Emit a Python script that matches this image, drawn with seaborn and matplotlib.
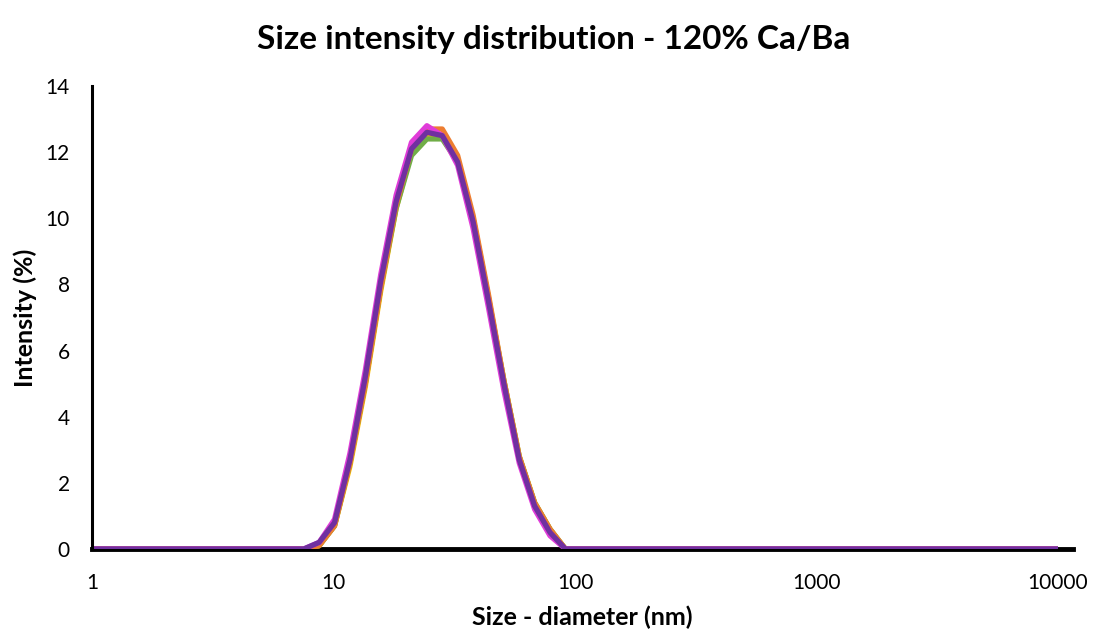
import matplotlib
matplotlib.use('Agg')
import matplotlib.pyplot as plt
import seaborn as sns
import pandas as pd
from matplotlib.ticker import FixedLocator, FixedFormatter, NullLocator

# size bins (nm), Zetasizer-style log spacing
size_nm = [0.9649, 1.117, 1.294, 1.499, 1.736, 2.010, 2.328, 2.696, 3.122, 3.615,
           4.187, 4.849, 5.615, 6.503, 7.531, 8.721, 10.10, 11.70, 13.54, 15.69,
           18.17, 21.04, 24.36, 28.21, 32.67, 37.84, 43.82, 50.75, 58.77, 68.06,
           78.82, 91.28, 105.7, 122.4, 141.8, 164.2, 190.1, 220.2, 255.0, 295.3,
           342.0, 396.1, 458.7, 531.2, 615.1, 712.4, 825.0, 955.4, 1106, 1281,
           1484, 1718, 1990, 2305, 2669, 3091, 3580, 4145, 4801, 5560,
           6439, 7456, 8635, 10000]

# intensity (%) per run, one value per bin
run_gold = [0, 0, 0, 0, 0, 0, 0, 0, 0, 0, 0, 0, 0, 0, 0,
            0.1, 0.7, 2.5, 4.9, 7.8, 10.3, 12.0, 12.5, 12.5, 11.8, 10.0, 7.6, 5.1, 2.8, 1.4, 0.6,
            0, 0, 0, 0, 0, 0, 0, 0, 0, 0, 0, 0, 0, 0, 0, 0, 0,
            0, 0, 0, 0, 0, 0, 0, 0, 0, 0, 0, 0, 0, 0, 0, 0]
run_green = [0, 0, 0, 0, 0, 0, 0, 0, 0, 0, 0, 0, 0, 0, 0,
             0.1, 0.7, 2.6, 5.0, 7.9, 10.3, 11.9, 12.4, 12.4, 11.7, 10.0, 7.6, 5.1, 2.8, 1.4, 0.6,
             0, 0, 0, 0, 0, 0, 0, 0, 0, 0, 0, 0, 0, 0, 0, 0, 0,
             0, 0, 0, 0, 0, 0, 0, 0, 0, 0, 0, 0, 0, 0, 0, 0]
run_orange = [0, 0, 0, 0, 0, 0, 0, 0, 0, 0, 0, 0, 0, 0, 0,
              0.1, 0.7, 2.6, 5.0, 7.9, 10.4, 12.1, 12.7, 12.7, 11.9, 10.1, 7.7, 5.1, 2.8, 1.4, 0.6,
              0, 0, 0, 0, 0, 0, 0, 0, 0, 0, 0, 0, 0, 0, 0, 0, 0,
              0, 0, 0, 0, 0, 0, 0, 0, 0, 0, 0, 0, 0, 0, 0, 0]
run_magenta = [0, 0, 0, 0, 0, 0, 0, 0, 0, 0, 0, 0, 0, 0, 0,
               0.2, 0.9, 2.9, 5.4, 8.3, 10.7, 12.3, 12.8, 12.5, 11.6, 9.7, 7.3, 4.8, 2.6, 1.2, 0.4,
               0, 0, 0, 0, 0, 0, 0, 0, 0, 0, 0, 0, 0, 0, 0, 0, 0,
               0, 0, 0, 0, 0, 0, 0, 0, 0, 0, 0, 0, 0, 0, 0, 0]
run_purple = [0, 0, 0, 0, 0, 0, 0, 0, 0, 0, 0, 0, 0, 0, 0,
              0.2, 0.8, 2.7, 5.2, 8.1, 10.5, 12.1, 12.6, 12.5, 11.7, 9.9, 7.5, 5.0, 2.7, 1.3, 0.5,
              0, 0, 0, 0, 0, 0, 0, 0, 0, 0, 0, 0, 0, 0, 0, 0, 0,
              0, 0, 0, 0, 0, 0, 0, 0, 0, 0, 0, 0, 0, 0, 0, 0]

runs = {'Run 1': run_gold, 'Run 2': run_green, 'Run 3': run_orange,
        'Run 4': run_magenta, 'Run 5': run_purple}
colors = ['#FFC000', '#70AD47', '#ED7D31', '#E03CD8', '#7030A0']

x_ticks = [1, 10, 100, 1000, 10000]
x_tick_labels = ['1', '10', '100', '1000', '10000']
y_ticks = [0, 2, 4, 6, 8, 10, 12, 14]

df = pd.concat([pd.DataFrame({'size': size_nm, 'intensity': v, 'run': k})
                for k, v in runs.items()], ignore_index=True)

sns.set_style('white')
plt.rcParams['font.family'] = ['Lato', 'DejaVu Sans']

fig = plt.figure(figsize=(11.07, 6.33), dpi=100)
ax = fig.add_axes([0.0831, 0.1327, 0.8862, 0.7314])

sns.lineplot(data=df, x='size', y='intensity', hue='run', palette=colors,
             linewidth=3.8, legend=False, ax=ax, solid_joinstyle='round',
             solid_capstyle='butt')

ax.set_xscale('log')
ax.set_xlim(1, 11540)
ax.set_ylim(0, 14)
ax.xaxis.set_major_locator(FixedLocator(x_ticks))
ax.xaxis.set_major_formatter(FixedFormatter(x_tick_labels))
ax.xaxis.set_minor_locator(NullLocator())
ax.set_yticks(y_ticks)
ax.tick_params(axis='both', length=0, labelsize=15, colors='black')
ax.tick_params(axis='x', pad=17)
ax.tick_params(axis='y', pad=16)

for side in ['top', 'right']:
    ax.spines[side].set_visible(False)
ax.spines['left'].set_color('black')
ax.spines['left'].set_linewidth(2.2)
ax.spines['bottom'].set_color('black')
ax.spines['bottom'].set_linewidth(3.5)
ax.spines['bottom'].set_zorder(1)

ax.set_xlabel('Size - diameter (nm)', fontsize=18, fontweight='bold',
              labelpad=9, color='black')
ax.set_ylabel('Intensity (%)', fontsize=18, fontweight='bold',
              labelpad=6, color='black')
fig.text(0.5, 0.937, 'Size intensity distribution - 120% Ca/Ba', fontsize=24,
         fontweight='bold', ha='center', va='center', color='black')

fig.savefig('out.png', dpi=100)
plt.close(fig)
